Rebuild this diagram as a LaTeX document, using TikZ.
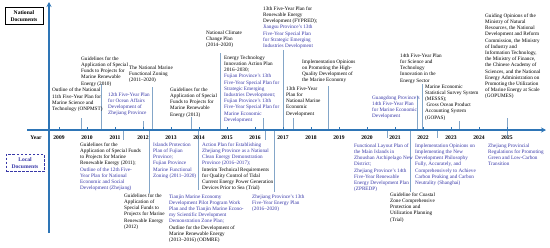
\documentclass[tikz,border=0pt]{standalone}
\usepackage{fontspec}
\setmainfont{Liberation Serif}
\usepackage{tikz}
\usetikzlibrary{arrows.meta,positioning}
\definecolor{axisblue}{RGB}{46,117,182}
\definecolor{leadblue}{RGB}{132,166,200}
\definecolor{locblue}{RGB}{56,56,168}

\begin{document}
\begin{tikzpicture}[x=1pt, y=-1pt,
  natdoc/.style={anchor=north west, align=left, inner sep=0pt, font=\fontsize{5.2}{6.2}\selectfont},
  locdoc/.style={natdoc, text=locblue},
  yearlbl/.style={font=\fontsize{5.6}{6}\selectfont\bfseries, inner sep=0pt},
  tagbox/.style={align=center, inner sep=1pt, minimum width=38pt, minimum height=17pt, font=\fontsize{5.6}{6.6}\selectfont\bfseries},
  axis/.style={draw=axisblue, line width=1.1pt},
  leader/.style={draw=leadblue, line width=0.8pt},
  >={Stealth[length=5pt, width=5pt]}
]
\useasboundingbox (0,0) rectangle (550,247);

% Legend boxes on the left
\node[tagbox, draw, line width=0.8pt] (natbox) at (24,16) {National\\Documents};
\node[tagbox, draw=locblue, text=locblue, dash pattern=on 2.5pt off 1.5pt, line width=1pt] (locbox) at (25,163) {Local\\Documents};

% Leader lines, upper side (x / top end)
\foreach \lx/\ly [count=\k] in {81/118, 101/84, 143/121, 152/87, 191/117, 220/53, 263/118, 283/50,
    293/118, 328/86, 417/96, 422/84, 459/121, 507/118} {
  \coordinate (uf\k) at (\lx,130);
  \coordinate (ut\k) at (\lx,\ly);
  \draw[leader] (uf\k) -- (ut\k);
}
% Leader lines, lower side (x / bottom end)
\foreach \lx/\ly [count=\k] in {123/140, 149/193, 198/190, 265/140, 274/192, 387/138, 410/192, 437/138, 507/138} {
  \coordinate (df\k) at (\lx,130);
  \coordinate (db\k) at (\lx,\ly);
  \draw[leader] (df\k) -- (db\k);
}

% Time axis
\coordinate (xstart) at (27,130);
\coordinate (xend)   at (546,130);
\coordinate (ybot)   at (49,233);
\coordinate (ytop)   at (49,2);
\draw[axis,->] (xstart) -- (xend);
\draw[axis,->] (ybot) -- (ytop);

% Years and ticks
\node[yearlbl] (yrtag) at (36,137.5) {Year};
\foreach \yr [count=\i from 0] in {2009,...,2025} {
  \node[yearlbl] (yr\yr) at (59+28*\i,137.5) {\yr};
  \coordinate (tk\yr) at (59+28*\i,130);
  \draw[axis, line width=0.8pt] (tk\yr) -- ++(0,-3.5);
}

% National documents (above the axis)
\node[natdoc] (onpmst) at (52,88) {Outline of the National\\11th Five-Year Plan for\\Marine Science and\\Technology (ONPMST)};
\node[natdoc] (gd2010) at (81,56.5) {Guidelines for the\\Application of Special\\Funds to Projects for\\Marine Renewable\\Energy (2010)};
\node[locdoc] (zj12) at (108,92.5) {12th Five-Year Plan\\for Ocean Affairs\\Development of\\Zhejiang Province};
\node[natdoc] (zoning) at (129,65.5) {The National Marine\\Functional Zoning\\(2011--2020)};
\node[natdoc] (gd2013) at (170,87.5) {Guidelines for the\\Application of Special\\Funds to Projects for\\Marine Renewable\\Energy (2013)};
\node[natdoc] (climate) at (206,30.5) {National Climate\\Change Plan\\(2014--2020)};
\node[natdoc] (enetech) at (224,55.5) {Energy Technology\\Innovation Action Plan\\2016--2030;\\
  \textcolor{locblue}{Fujian Province's 13th}\\\textcolor{locblue}{Five-Year Special Plan for}\\
  \textcolor{locblue}{Strategic Emerging}\\\textcolor{locblue}{Industries Development;}\\
  \textcolor{locblue}{Fujian Province's 13th}\\\textcolor{locblue}{Five-Year Special Plan for}\\
  \textcolor{locblue}{Marine Economic}\\\textcolor{locblue}{Development}};
\node[natdoc] (fypred) at (263,6.5) {13th Five-Year Plan for\\Renewable Energy\\Development (FYPRED);\\
  \textcolor{locblue}{Jiangsu Province's 13th}\\\textcolor{locblue}{Five-Year Special Plan}\\
  \textcolor{locblue}{for Strategic Emerging}\\\textcolor{locblue}{Industries Development}};
\node[natdoc] (marecon13) at (286,86.5) {13th Five-Year\\Plan for\\National Marine\\Economic\\Development};
\node[natdoc] (hqdev) at (302,59.5) {Implementation Opinions\\on Promoting the High-\\Quality Development of\\the Marine Economy};
\node[natdoc] (sci14) at (400,53.5) {14th Five-Year Plan\\for Science and\\Technology\\Innovation in the\\Energy Sector};
\node[locdoc] (gdong) at (372,95.5) {Guangdong Province's\\14th Five-Year Plan\\for Marine Economic\\Development};
\node[natdoc] (messs) at (425,84.5) {Marine Economic\\Statistical Survey System\\(MESSS);\\\hspace{1.5pt}Gross Ocean Product\\Accounting System\\(GOPAS)};
\node[natdoc] (gopumes) at (485,13.5) {Guiding Opinions of the\\Ministry of Natural\\Resources, the National\\Development and Reform\\Commission, the Ministry\\of Industry and\\Information Technology,\\the Ministry of Finance,\\the Chinese Academy of\\Sciences, and the National\\Energy Administration on\\Promoting the Utilization\\of Marine Energy at Scale\\(GOPUMES)};

% Local documents (below the axis)
\node[natdoc] (gd2011) at (80,142.5) {Guidelines for the\\Application of Special Funds\\to Projects for Marine\\Renewable Energy (2011);\\
  \textcolor{locblue}{Outline of the 12th Five-}\\\textcolor{locblue}{Year Plan for National}\\
  \textcolor{locblue}{Economic and Social}\\\textcolor{locblue}{Development (Zhejiang)}};
\node[natdoc] (gd2012) at (124,193.5) {Guidelines for the\\Application of\\Special Funds to\\Projects for Marine\\Renewable Energy\\(2012)};
\node[locdoc] (islands) at (153,142.5) {Islands Protection\\Plan of Fujian\\Province;\\Fujian Province\\Marine Functional\\Zoning (2011--2020)};
\node[locdoc] (cleanzj) at (202,142.5) {Action Plan for Establishing\\Zhejiang Province as a National\\Clean Energy Demonstration\\Province (2016--2017);\\
  \textcolor{black}{Interim Technical Requirements}\\\textcolor{black}{for Quality Control of Tidal}\\
  \textcolor{black}{Current Energy Power Generation}\\\textcolor{black}{Devices Prior to Sea (Trial)}};
\node[locdoc] (tianjin) at (169,194.5) {Tianjin Marine Economy\\Development Pilot Program Work\\Plan and the Tianjin Marine Econo-\\my Scientific Development\\Demonstration Zone Plan;\\
  \textcolor{black}{Outline for the Development of}\\\textcolor{black}{Marine Renewable Energy}\\
  \textcolor{black}{(2013--2016) (ODMRE)}};
\node[locdoc] (zjenergy13) at (252,194.5) {Zhejiang Province's 13th\\Five-Year Energy Plan\\(2016--2020)};
\node[locdoc] (zhoushan) at (354,143.5) {Functional Layout Plan of\\the Main Islands in\\Zhoushan Archipelago New\\District;\\Zhejiang Province's 14th\\Five-Year Renewable\\Energy Development Plan\\(ZPREDP)};
\node[natdoc] (coastal) at (390,192.5) {Guideline for Coastal\\Zone Comprehensive\\Protection and\\Utilization Planning\\(Trial)};
\node[locdoc] (shanghai) at (415,143.5) {Implementation Opinions on\\Implementing the New\\Development Philosophy\\Fully, Accurately, and\\Comprehensively to Achieve\\Carbon Peaking and Carbon\\Neutrality (Shanghai)};
\node[locdoc] (zjlowc) at (488,143.5) {Zhejiang Provincial\\Regulations for Promoting\\Green and Low-Carbon\\Transition};
\end{tikzpicture}
\end{document}
